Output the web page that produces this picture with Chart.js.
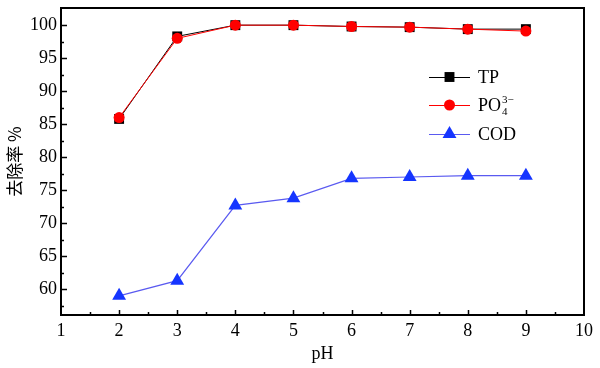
<!DOCTYPE html>
<html>
<head>
<meta charset="utf-8">
<script src="https://cdn.jsdelivr.net/npm/chart.js@4/dist/chart.umd.min.js"></script>
<style>
html,body{margin:0;padding:0;background:#fff;}
#wrap{width:600px;height:368px;position:relative;}
</style>
</head>
<body>
<div id="wrap"><canvas id="c" width="600" height="368"></canvas></div>
<script>
const phValues = [2, 3, 4, 5, 6, 7, 8, 9];
const tpValues = [85.8, 98.3, 100.0, 100.0, 99.8, 99.7, 99.4, 99.4];
const po4Values = [86.0, 98.0, 100.0, 100.0, 99.8, 99.7, 99.4, 99.1];
const codValues = [59.0, 61.3, 72.7, 73.8, 76.8, 77.0, 77.2, 77.2];
const xTicks = [1, 2, 3, 4, 5, 6, 7, 8, 9, 10];
const yTicks = [60, 65, 70, 75, 80, 85, 90, 95, 100];
const xTitle = 'pH';
const yTitle = '去除率 %';

const serif = "'Liberation Serif', 'DejaVu Serif', serif";
const toPts = vals => phValues.map((x, i) => ({x: x, y: vals[i]}));

const framePlugin = {
  id: 'frame',
  afterDatasetsDraw(chart) {
    const {ctx, chartArea: a, scales} = chart;
    const xs = scales.x, ys = scales.y;
    ctx.save();
    ctx.strokeStyle = '#000';
    ctx.lineWidth = 2;
    ctx.strokeRect(a.left, a.top, a.right - a.left, a.bottom - a.top);
    ctx.lineWidth = 1.5;
    ctx.beginPath();
    yTicks.forEach(v => {
      const y = Math.round(ys.getPixelForValue(v)) + 0.5;
      ctx.moveTo(a.left, y); ctx.lineTo(a.left + 6, y);
      const ym = Math.round(ys.getPixelForValue(v + 2.5)) + 0.5;
      if (ym > a.top + 2) { ctx.moveTo(a.left, ym); ctx.lineTo(a.left + 3, ym); }
    });
    const ym0 = Math.round(ys.getPixelForValue(yTicks[0] - 2.5)) + 0.5;
    ctx.moveTo(a.left, ym0); ctx.lineTo(a.left + 3, ym0);
    xTicks.forEach((v, i) => {
      const x = Math.round(xs.getPixelForValue(v)) + 0.5;
      if (i > 0 && i < xTicks.length - 1) { ctx.moveTo(x, a.bottom); ctx.lineTo(x, a.bottom - 5); }
      if (i < xTicks.length - 1) {
        const xm = Math.round(xs.getPixelForValue(v + 0.5)) + 0.5;
        ctx.moveTo(xm, a.bottom); ctx.lineTo(xm, a.bottom - 3);
      }
    });
    ctx.stroke();

    // legend
    const lx = 429, lineLen = 41, rowY = [77, 105, 134];
    [0, 1, 2].forEach((di, r) => {
      const d = chart.data.datasets[di];
      const y = rowY[r];
      ctx.strokeStyle = d.borderColor;
      ctx.lineWidth = 1;
      ctx.beginPath();
      ctx.moveTo(lx, y + 0.5); ctx.lineTo(lx + lineLen, y + 0.5);
      ctx.stroke();
      ctx.fillStyle = d.pointBackgroundColor;
      ctx.strokeStyle = d.pointBorderColor;
      ctx.lineWidth = 0;
      Chart.helpers.drawPoint(ctx, {pointStyle: d.pointStyle, radius: d.pointRadius, rotation: 0, borderWidth: 0}, lx + lineLen / 2, y);
      ctx.fillStyle = '#000';
      ctx.textBaseline = 'middle';
      ctx.textAlign = 'left';
      ctx.font = '18px ' + serif;
      const tx = lx + lineLen + 8;
      if (d.label === 'PO43-') {
        ctx.fillText('PO', tx, y + 1);
        const w = ctx.measureText('PO').width;
        ctx.font = '11px ' + serif;
        ctx.fillText('3\u2212', tx + w + 1, y - 5);
        ctx.fillText('4', tx + w + 1, y + 7);
      } else {
        ctx.fillText(d.label, tx, y + 1);
      }
    });
    ctx.restore();
  }
};

new Chart(document.getElementById('c'), {
  type: 'line',
  data: {
    datasets: [
      {label: 'TP', data: toPts(tpValues), borderColor: '#000000', borderWidth: 1,
       pointStyle: 'rect', pointRadius: 7, pointBackgroundColor: '#000000', pointBorderColor: '#000000', pointBorderWidth: 0, order: 2},
      {label: 'PO43-', data: toPts(po4Values), borderColor: '#ff0000', borderWidth: 1,
       pointStyle: 'circle', pointRadius: 5.5, pointBackgroundColor: '#ff0000', pointBorderColor: '#ff0000', pointBorderWidth: 0, order: 1},
      {label: 'COD', data: toPts(codValues), borderColor: '#5a5af0', borderWidth: 1.2,
       pointStyle: 'triangle', pointRadius: 8, pointBackgroundColor: '#1535ff', pointBorderColor: '#1535ff', pointBorderWidth: 0, order: 0}
    ]
  },
  options: {
    responsive: false,
    animation: false,
    clip: false,
    layout: {padding: {top: 8, right: 16, left: 0, bottom: 0}},
    plugins: {legend: {display: false}, tooltip: {enabled: false}},
    scales: {
      x: {
        type: 'linear', min: 1, max: 10,
        afterBuildTicks: s => { s.ticks = xTicks.map(v => ({value: v})); },
        afterFit: s => { s.height = 53; },
        grid: {display: false, drawTicks: false},
        border: {display: false},
        ticks: {padding: 5, color: '#000', font: {family: serif, size: 18}, maxRotation: 0, autoSkip: false},
        title: {display: true, text: xTitle, color: '#000', font: {family: serif, size: 18}, padding: {top: 0, bottom: 3}}
      },
      y: {
        type: 'linear', min: 56.1, max: 102.6,
        afterBuildTicks: s => { s.ticks = yTicks.map(v => ({value: v})); },
        afterFit: s => { s.width = 61; s.paddingTop = 0; s.paddingBottom = 0; },
        grid: {display: false, drawTicks: false},
        border: {display: false},
        ticks: {padding: 4, color: '#000', font: {family: serif, size: 18, lineHeight: 0.6}, autoSkip: false},
        title: {display: true, text: yTitle, color: '#000', font: {family: "'Noto Sans CJK SC', sans-serif", size: 17}, padding: {top: 4, bottom: 0}}
      }
    }
  },
  plugins: [framePlugin]
});
</script>
</body>
</html>
